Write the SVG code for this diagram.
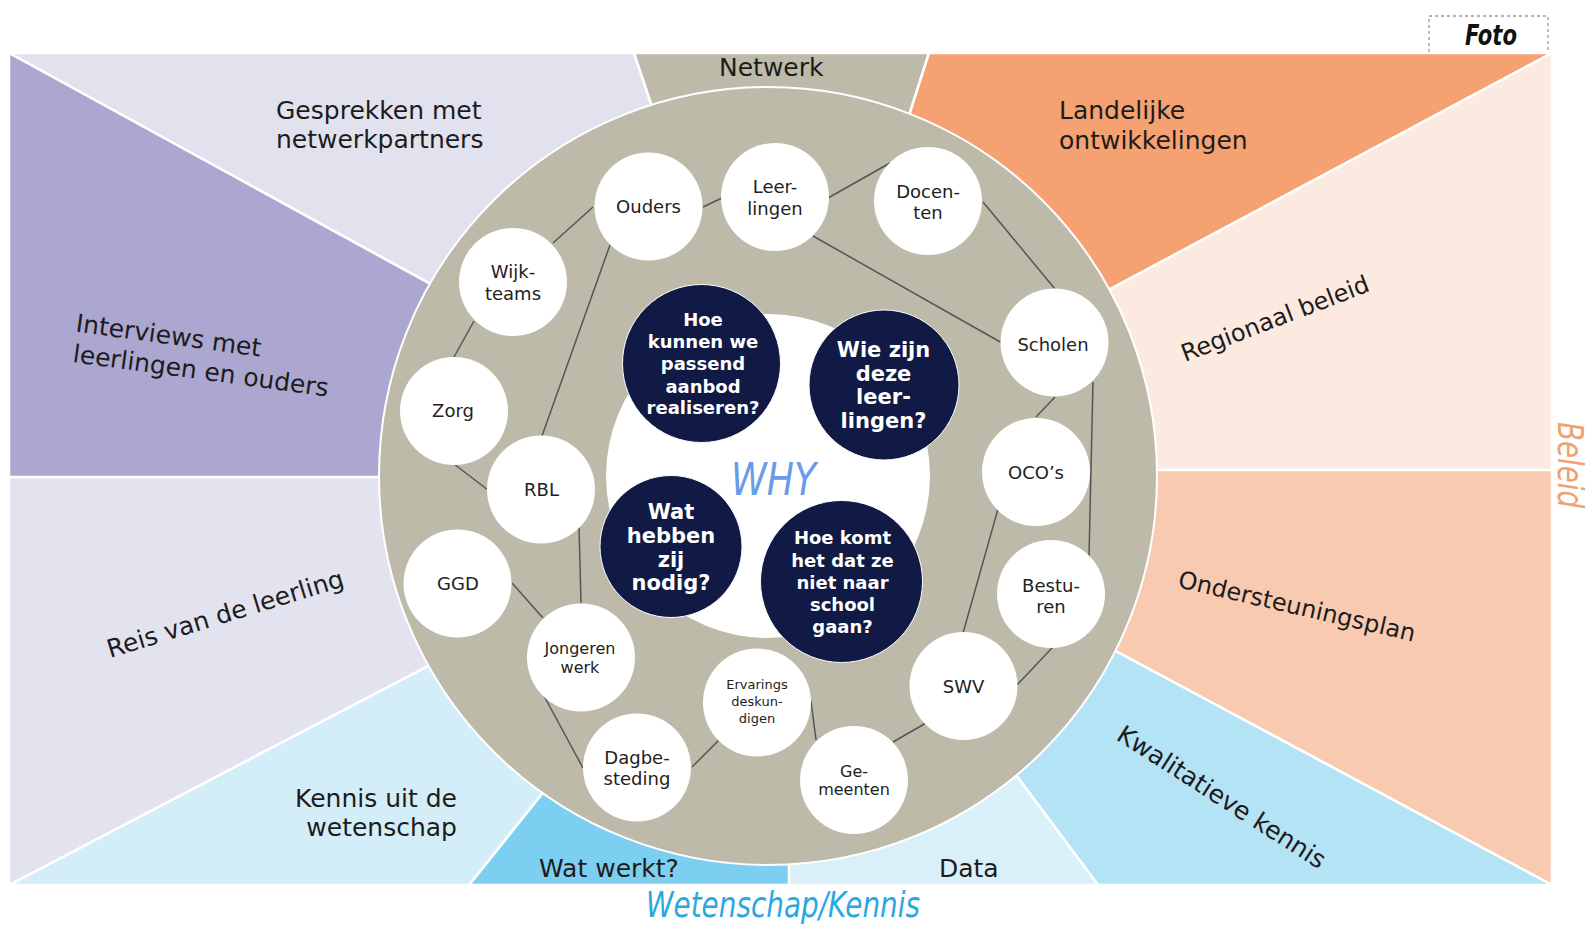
<svg xmlns="http://www.w3.org/2000/svg" width="1592" height="927" viewBox="0 0 1592 927">
<style>
.seg{stroke:#fff;stroke-width:2.5;stroke-linejoin:miter}
.lbl{font-family:"DejaVu Sans","Liberation Sans",sans-serif;font-size:25px;fill:#1c1c1c}
.l24{font-size:24px}
.node{fill:#fff}
.nt{font-family:"DejaVu Sans","Liberation Sans",sans-serif;font-size:18px;fill:#222;text-anchor:middle}
.s16{font-size:16px}
.s13{font-size:13px}
.q{fill:#111a45;stroke:#fff;stroke-width:1}
.qt{font-family:"DejaVu Sans","Liberation Sans",sans-serif;font-weight:bold;font-size:18px;fill:#fff;text-anchor:middle}
.q21{font-size:21px}
.conn line{stroke:#555;stroke-width:1.5}
.hand{font-family:"DejaVu Sans","Liberation Sans",sans-serif;font-style:italic}
</style>
<rect x="0" y="0" width="1592" height="927" fill="#fff"/>
<rect x="1429" y="16" width="119" height="40" fill="none" stroke="#999" stroke-width="1.3" stroke-dasharray="3,3"/>
<text class="hand" x="1465" y="45" font-size="28" font-weight="bold" fill="#111" textLength="52" lengthAdjust="spacingAndGlyphs">Foto</text>
<g id="segments">
<polygon class="seg" fill="#e2e2ee" points="9,53 634,53 675,175 560,355"/>
<polygon class="seg" fill="#bebaa9" points="634,53 929,53 890,175 675,175"/>
<polygon class="seg" fill="#f5a172" points="929,53 1552,53 1000,348 890,175"/>
<polygon class="seg" fill="#fceae1" points="1552,53 1552,470 1000,470 1000,348"/>
<polygon class="seg" fill="#f8cab0" points="1552,470 1552,885 1000,589 1000,470"/>
<polygon class="seg" fill="#b5e3f6" points="1552,885 1098,885 960,700 1000,589"/>
<polygon class="seg" fill="#daf0f9" points="1098,885 789,885 789,700 960,700"/>
<polygon class="seg" fill="#7dcff1" points="789,885 469,885 600,721 789,700"/>
<polygon class="seg" fill="#d4eef9" points="469,885 9,885 560,597 600,721"/>
<polygon class="seg" fill="#e3e2ef" points="9,885 9,477 560,477 560,597"/>
<polygon class="seg" fill="#aba7d0" points="9,53 9,477 560,477 560,355"/>
</g>
<g id="segment-labels">
<text class="lbl" x="719" y="76">Netwerk</text>
<text class="lbl" x="276" y="119">Gesprekken met</text>
<text class="lbl" x="276" y="148">netwerkpartners</text>
<text class="lbl" x="1059" y="119">Landelijke</text>
<text class="lbl" x="1059" y="149">ontwikkelingen</text>
<text class="lbl l24" transform="translate(1185,362) rotate(-21)">Regionaal beleid</text>
<text class="lbl l24" transform="translate(1177,587) rotate(13)">Ondersteuningsplan</text>
<text class="lbl" transform="translate(1115,739) rotate(32.6)">Kwalitatieve kennis</text>
<text class="lbl" x="939" y="877">Data</text>
<text class="lbl" x="539" y="877">Wat werkt?</text>
<text class="lbl" x="457" y="807" text-anchor="end">Kennis uit de</text>
<text class="lbl" x="457" y="836" text-anchor="end">wetenschap</text>
<text class="lbl" transform="translate(110,658) rotate(-17)">Reis van de leerling</text>
<text class="lbl" transform="translate(75,331.5) rotate(7.7)">Interviews met</text>
<text class="lbl" transform="translate(72,362) rotate(7.7)">leerlingen en ouders</text>
</g>
<text class="hand" transform="translate(1558,422) rotate(90)" font-size="36" fill="#efa273" textLength="86" lengthAdjust="spacingAndGlyphs">Beleid</text>
<text class="hand" x="646" y="917" font-size="36" fill="#2aa7df" textLength="274" lengthAdjust="spacingAndGlyphs">Wetenschap/Kennis</text>
<circle id="ring" cx="768" cy="476" r="389" fill="#bebaa9" stroke="#fff" stroke-width="2"/>
<circle id="why-core" cx="768" cy="476" r="162" fill="#fff"/>
<text class="hand" x="731" y="495" font-size="44" fill="#6a9be6" textLength="85" lengthAdjust="spacingAndGlyphs">WHY</text>
<g class="conn" id="connectors">
<line x1="553" y1="243" x2="593" y2="207"/>
<line x1="474" y1="321" x2="454" y2="357"/>
<line x1="610" y1="245" x2="542" y2="436"/>
<line x1="454" y1="464" x2="488" y2="490"/>
<line x1="703" y1="207" x2="722" y2="198"/>
<line x1="828" y1="198" x2="890" y2="163"/>
<line x1="813" y1="236" x2="1002" y2="343"/>
<line x1="983" y1="202" x2="1055" y2="289"/>
<line x1="1055" y1="397" x2="1036" y2="417"/>
<line x1="1093" y1="382" x2="1089" y2="556"/>
<line x1="998" y1="509" x2="963" y2="633"/>
<line x1="1052" y1="648" x2="1017" y2="685"/>
<line x1="926" y1="723" x2="893" y2="742"/>
<line x1="811" y1="701" x2="816" y2="740"/>
<line x1="692" y1="767" x2="720" y2="739"/>
<line x1="579" y1="527" x2="581" y2="603"/>
<line x1="512" y1="583" x2="543" y2="618"/>
<line x1="543" y1="694" x2="583" y2="768"/>
</g>
<g id="n-ouders"><circle class="node" cx="648.5" cy="206.5" r="54"/><text class="nt" x="648.5" y="213">Ouders</text></g>
<g id="n-leerlingen"><circle class="node" cx="775" cy="197" r="54"/><text class="nt" x="775" y="193">Leer-</text><text class="nt" x="775" y="215">lingen</text></g>
<g id="n-docenten"><circle class="node" cx="928" cy="201" r="54"/><text class="nt" x="928" y="198">Docen-</text><text class="nt" x="928" y="219">ten</text></g>
<g id="n-wijkteams"><circle class="node" cx="513" cy="282" r="54"/><text class="nt" x="513" y="278">Wijk-</text><text class="nt" x="513" y="300">teams</text></g>
<g id="n-zorg"><circle class="node" cx="454" cy="411" r="54"/><text class="nt" x="453" y="417">Zorg</text></g>
<g id="n-rbl"><circle class="node" cx="541" cy="489.5" r="54"/><text class="nt" x="541.5" y="496">RBL</text></g>
<g id="n-scholen"><circle class="node" cx="1054.5" cy="342.5" r="54"/><text class="nt" x="1053" y="350.5">Scholen</text></g>
<g id="n-ocos"><circle class="node" cx="1036" cy="472" r="54"/><text class="nt" x="1036" y="478.5">OCO’s</text></g>
<g id="n-besturen"><circle class="node" cx="1051" cy="594" r="54"/><text class="nt" x="1051" y="591.5">Bestu-</text><text class="nt" x="1051" y="612.5">ren</text></g>
<g id="n-swv"><circle class="node" cx="963.5" cy="686" r="54"/><text class="nt" x="963.5" y="693">SWV</text></g>
<g id="n-gemeenten"><circle class="node" cx="854" cy="780" r="54"/><text class="nt s16" x="854" y="776.5">Ge-</text><text class="nt s16" x="854" y="795">meenten</text></g>
<g id="n-ervaringsdeskundigen"><circle class="node" cx="757" cy="702.5" r="54"/><text class="nt s13" x="757" y="688.5">Ervarings</text><text class="nt s13" x="757" y="705.5">deskun-</text><text class="nt s13" x="757" y="722.5">digen</text></g>
<g id="n-dagbesteding"><circle class="node" cx="637" cy="767.5" r="54"/><text class="nt" x="637" y="764">Dagbe-</text><text class="nt" x="637" y="785">steding</text></g>
<g id="n-jongerenwerk"><circle class="node" cx="581" cy="657.5" r="54"/><text class="nt s16" x="580" y="654">Jongeren</text><text class="nt s16" x="580" y="672.5">werk</text></g>
<g id="n-ggd"><circle class="node" cx="457.5" cy="583.5" r="54"/><text class="nt" x="458" y="590">GGD</text></g>
<g id="q-aanbod"><circle class="q" cx="701.5" cy="363.5" r="79"/><text class="qt" x="703" y="326">Hoe</text><text class="qt" x="703" y="348">kunnen we</text><text class="qt" x="703" y="370">passend</text><text class="qt" x="703" y="392.5">aanbod</text><text class="qt" x="703" y="414">realiseren?</text></g>
<g id="q-wie"><circle class="q" cx="884" cy="385" r="75"/><text class="qt q21" x="883.5" y="356.5">Wie zijn</text><text class="qt q21" x="883.5" y="380.5">deze</text><text class="qt q21" x="883.5" y="404">leer-</text><text class="qt q21" x="883.5" y="427.5">lingen?</text></g>
<g id="q-nodig"><circle class="q" cx="671" cy="546.5" r="71"/><text class="qt q21" x="671" y="519">Wat</text><text class="qt q21" x="671" y="542.5">hebben</text><text class="qt q21" x="671" y="566.5">zij</text><text class="qt q21" x="671" y="590">nodig?</text></g>
<g id="q-school"><circle class="q" cx="841.5" cy="581.5" r="81"/><text class="qt" x="842.5" y="544">Hoe komt</text><text class="qt" x="842.5" y="566.5">het dat ze</text><text class="qt" x="842.5" y="588.5">niet naar</text><text class="qt" x="842.5" y="610.5">school</text><text class="qt" x="842.5" y="632.5">gaan?</text></g>
</svg>
